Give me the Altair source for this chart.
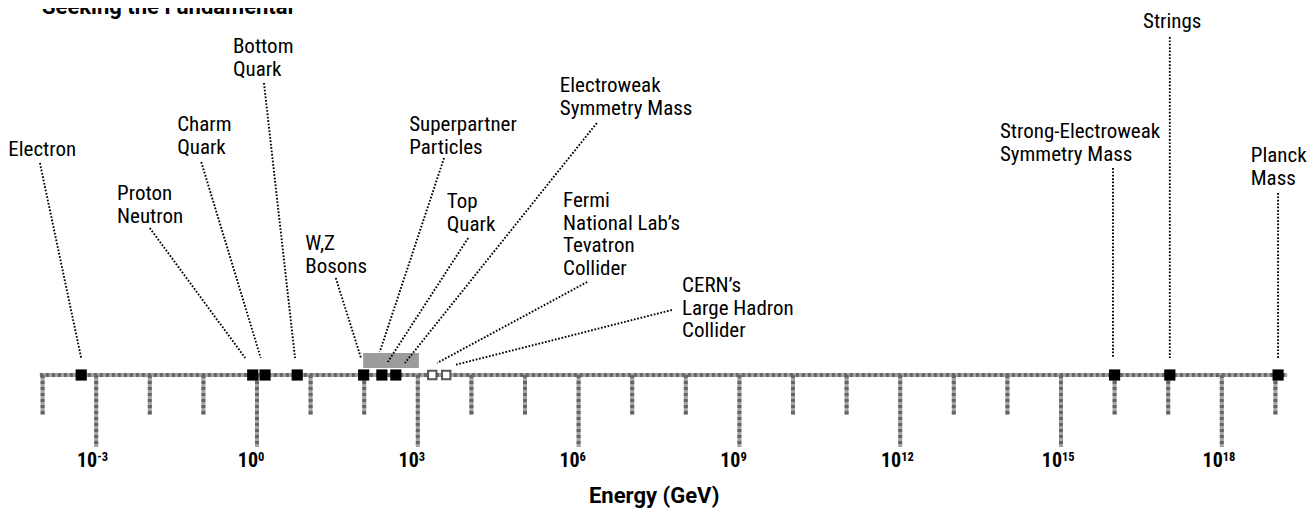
import altair as alt
import pandas as pd

# ---------------- data ----------------
title_text = "Seeking the Fundamental"
axis_title = "Energy (GeV)"

names = [
    "Electron", "Proton\nNeutron", "Charm\nQuark", "Bottom\nQuark", "W,Z\nBosons",
    "Superpartner\nParticles", "Top\nQuark", "Electroweak\nSymmetry Mass",
    "Fermi\nNational Lab’s\nTevatron\nCollider", "CERN’s\nLarge Hadron\nCollider",
    "Strong-Electroweak\nSymmetry Mass", "Strings", "Planck\nMass",
]
# log10 of energy (GeV) for each point marker
point_names = ["Electron", "Proton", "Charm", "Bottom", "W,Z", "Top", "Electroweak",
               "Strong-Electroweak", "Strings", "Planck"]
point_log = [-3.28, -0.08, 0.15, 0.75, 1.99, 2.33, 2.59, 16.0, 17.03, 19.05]
collider_names = ["Tevatron", "LHC"]
collider_log = [3.27, 3.53]
superpartner_range = [1.98, 3.02]

major_exps = [-3, 0, 3, 6, 9, 12, 15, 18]
major_labels = ["-3", "0", "3", "6", "9", "12", "15", "18"]
all_exps = list(range(-4, 20))

# ---------------- layout (label anchors / leader lines, in axis units) ----------------
label_x = [-4.64, -2.61, -1.49, -0.45, 0.90, 2.84, 3.54, 5.65, 5.71, 7.93, 13.86, 16.53, 18.54]
label_h = [219, 175, 244, 322, 125, 244, 167, 283, 168, 83, 237, 347, 213]
lead_x1 = [-4.05, -2.0, -1.04, 0.13, 1.47, 3.49, 3.94, 6.34, 6.16, 7.74, 15.97, 17.03, 19.05]
lead_h1 = [212, 147, 213, 292, 97, 217, 137, 252, 93, 65, 207, 338, 182]
lead_x2 = [-3.28, -0.22, 0.07, 0.71, 1.94, 2.29, 2.44, 2.76, 3.36, 3.69, 15.97, 17.03, 19.05]
lead_h2 = [17, 17, 17, 17, 17, 23, 13, 12, 12, 10, 17, 17, 17]

XMIN, XMAX = -4.6455, 19.5896
YMIN, YMAX = -133, 367
FONT = "Roboto Condensed"
BOLD_FONT = "Roboto"

xs = alt.Scale(domain=[XMIN, XMAX], nice=False, zero=False)
ys = alt.Scale(domain=[YMIN, YMAX], nice=False, zero=False)


def X(f):
    return alt.X(f, type="quantitative", scale=xs, axis=None)


def Y(f):
    return alt.Y(f, type="quantitative", scale=ys, axis=None)


labels_df = pd.DataFrame({"name": names, "x": label_x, "h": label_h})
lead_df = pd.DataFrame({"x": lead_x1, "h": lead_h1, "x2": lead_x2, "h2": lead_h2})
axis_df = pd.DataFrame({"x": [-4.05], "x2": [19.22], "h": [0]})
ticks_df = pd.DataFrame({
    "e": all_exps,
    "h": [0] * len(all_exps),
    "h2": [-72 if e % 3 == 0 else -40 for e in all_exps],
})
points_df = pd.DataFrame({"name": point_names, "e": point_log, "h": [0] * len(point_log)})
coll_df = pd.DataFrame({"name": collider_names, "e": collider_log, "h": [0] * len(collider_log)})
sp_df = pd.DataFrame({"x": [superpartner_range[0]], "x2": [superpartner_range[1]], "h": [7], "h2": [22]})
major_df = pd.DataFrame({"e": major_exps, "lab": major_labels, "base": ["10"] * len(major_exps),
                         "h": [-92] * len(major_exps), "hs": [-86] * len(major_exps)})
title_df = pd.DataFrame({"t": [title_text], "x": [-4.01], "h": [361]})
atitle_df = pd.DataFrame({"t": [axis_title], "x": [7.41], "h": [-128]})

axis_light = alt.Chart(axis_df).mark_rule(color="#a3a3a3", strokeWidth=4).encode(
    x=X("x"), x2="x2", y=Y("h"))
axis_dark = alt.Chart(axis_df).mark_rule(color="#666666", strokeWidth=4, strokeDash=[3, 3]).encode(
    x=X("x"), x2="x2", y=Y("h"))
ticks_light = alt.Chart(ticks_df).mark_rule(color="#a3a3a3", strokeWidth=4).encode(
    x=X("e"), y=Y("h"), y2="h2")
ticks_dark = alt.Chart(ticks_df).mark_rule(color="#666666", strokeWidth=4, strokeDash=[3, 3]).encode(
    x=X("e"), y=Y("h"), y2="h2")

sp_rect = alt.Chart(sp_df).mark_rect(color="#9c9c9c").encode(
    x=X("x"), x2="x2", y=Y("h"), y2="h2")

leaders = alt.Chart(lead_df).mark_rule(color="black", strokeWidth=1.9, strokeDash=[1.7, 1.7]).encode(
    x=X("x"), y=Y("h"), x2="x2", y2="h2")

points = alt.Chart(points_df).mark_square(color="black", opacity=1, size=125).encode(
    x=X("e"), y=Y("h"))
colls = alt.Chart(coll_df).mark_square(fill="white", stroke="#555555", strokeWidth=2,
                                       opacity=1, fillOpacity=1, size=70).encode(
    x=X("e"), y=Y("h"))

labels = alt.Chart(labels_df).mark_text(
    align="left", baseline="alphabetic", lineBreak="\n", lineHeight=22.5,
    fontSize=21, font=FONT, color="black").encode(
    x=X("x"), y=Y("h"), text="name:N")

tick_base = alt.Chart(major_df).mark_text(
    align="right", baseline="alphabetic", fontSize=20, fontWeight="bold", dx=1,
    font=FONT, color="black").encode(x=X("e"), y=Y("h"), text="base:N")
tick_exp = alt.Chart(major_df).mark_text(
    align="left", baseline="alphabetic", fontSize=12.5, fontWeight="bold", dx=1,
    font=FONT, color="black").encode(x=X("e"), y=Y("hs"), text="lab:N")

title = alt.Chart(title_df).mark_text(
    align="left", baseline="alphabetic", fontSize=22, fontWeight="bold",
    font=BOLD_FONT, color="black").encode(x=X("x"), y=Y("h"), text="t:N")
atitle = alt.Chart(atitle_df).mark_text(
    align="center", baseline="alphabetic", fontSize=22, fontWeight="bold",
    font=BOLD_FONT, color="black").encode(x=X("x"), y=Y("h"), text="t:N")

chart = alt.layer(
    axis_light, axis_dark, ticks_light, ticks_dark, sp_rect, leaders,
    points, colls, labels, tick_base, tick_exp, title, atitle,
).properties(
    width=1299, height=500, padding=0,
    autosize=alt.AutoSizeParams(type="none"),
    view=alt.ViewBackground(stroke="transparent", strokeWidth=0),
).configure_view(stroke="transparent", strokeWidth=0).configure(background="white")

chart.save("out.html", embed_options={"renderer": "svg", "actions": False})
